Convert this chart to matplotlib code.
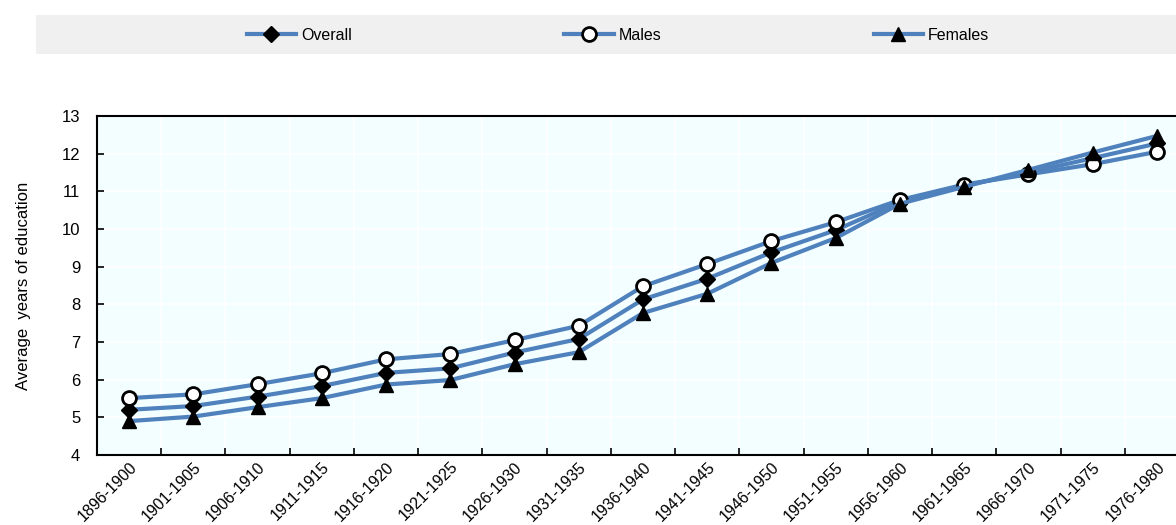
import numpy as np
import matplotlib.pyplot as plt
from matplotlib.patches import Rectangle

plt.rcParams['font.family'] = ['Liberation Sans', 'DejaVu Sans']

cohorts = ['1896-1900', '1901-1905', '1906-1910', '1911-1915', '1916-1920', '1921-1925',
           '1926-1930', '1931-1935', '1936-1940', '1941-1945', '1946-1950', '1951-1955',
           '1956-1960', '1961-1965', '1966-1970', '1971-1975', '1976-1980']
overall = [5.20, 5.30, 5.55, 5.83, 6.18, 6.30, 6.72, 7.08, 8.13, 8.68, 9.38, 9.97,
           10.72, 11.15, 11.50, 11.88, 12.27]
males = [5.51, 5.61, 5.88, 6.17, 6.54, 6.68, 7.05, 7.43, 8.48, 9.07, 9.68, 10.18,
         10.77, 11.18, 11.45, 11.72, 12.05]
females = [4.90, 5.02, 5.27, 5.51, 5.87, 5.99, 6.41, 6.73, 7.77, 8.28, 9.10, 9.76,
           10.67, 11.12, 11.57, 12.03, 12.47]

blue = '#4F81BD'
fig = plt.figure(figsize=(11.76, 5.25), dpi=100)
ax = fig.add_axes([97/1176, 1-455/525, 1092/1176, 339/525])
ax.set_facecolor('#F2FEFF')

x = np.arange(len(cohorts))
l1, = ax.plot(x, overall, color=blue, lw=3, marker='D', ms=8, mfc='black', mec='black', label='Overall', zorder=3)
l2, = ax.plot(x, males, color=blue, lw=3, marker='o', ms=10, mfc='white', mec='black', mew=2, label='Males', zorder=3)
l3, = ax.plot(x, females, color=blue, lw=3, marker='^', ms=10, mfc='black', mec='black', label='Females', zorder=3)

ax.set_xlim(-0.5, len(cohorts) - 0.5)
ax.set_ylim(4, 13)
ax.set_yticks(range(4, 14))
ax.set_xticks(x)
ax.set_xticklabels(cohorts, rotation=45, ha='right', rotation_mode='anchor', fontsize=11.5)
ax.set_xticks(np.arange(-0.5, len(cohorts)), minor=True)
ax.tick_params(axis='x', which='major', length=0, pad=3)
ax.tick_params(axis='x', which='minor', direction='in', length=5, width=1.2)
ax.tick_params(axis='y', direction='in', length=5, width=1.2, labelsize=12, pad=12)
ax.grid(True, which='minor', axis='x', color='white', lw=1.2)
ax.grid(True, which='major', axis='y', color='white', lw=1.2)
for s in ['left', 'bottom', 'top']:
    ax.spines[s].set_linewidth(1.5)
ax.spines['right'].set_visible(False)
ax.set_ylabel('Average  years of education', fontsize=12, labelpad=22)

# legend band
fig.patches.append(Rectangle((36/1176, 1-54/525), 1140/1176, 39/525, transform=fig.transFigure,
                             facecolor='#F0F0F0', edgecolor='none', zorder=0))
fig.legend(handles=[l1, l2, l3], loc='center', bbox_to_anchor=(618/1176, 1-35/525), ncol=3,
           frameon=False, fontsize=11.5, handlelength=3.1, handletextpad=0.3, columnspacing=13.3)

fig.savefig('out.png', dpi=100)
